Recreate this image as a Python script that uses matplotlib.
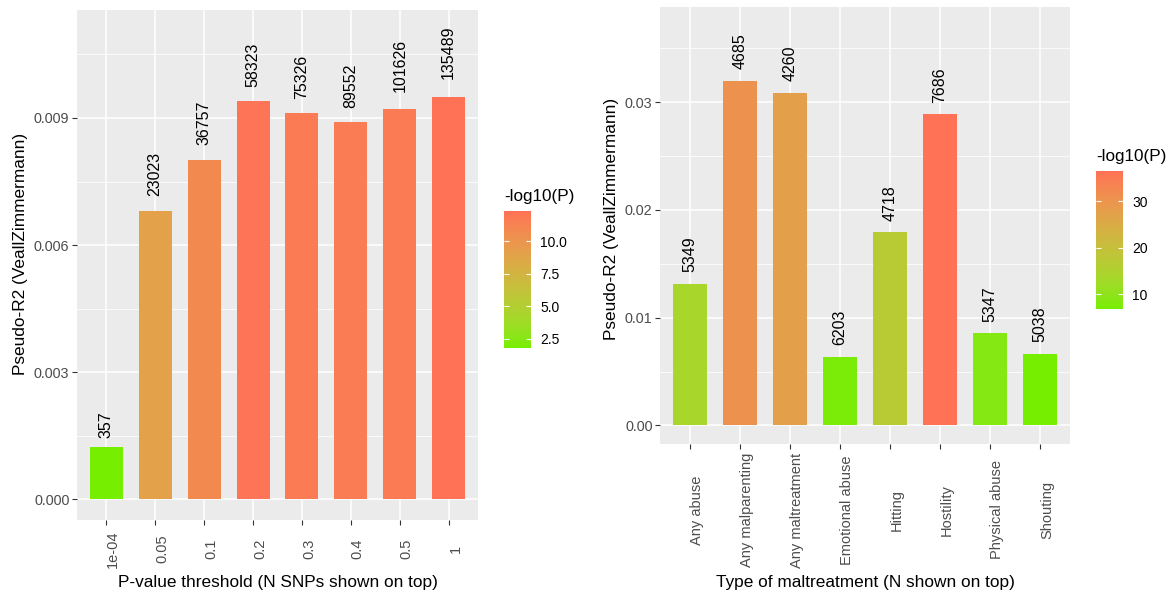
import numpy as np
import matplotlib
matplotlib.use('Agg')
import matplotlib.pyplot as plt
from matplotlib.colors import ListedColormap, Normalize, to_rgb
from matplotlib.cm import ScalarMappable
from matplotlib.ticker import MultipleLocator, FormatStrFormatter

plt.rcParams['font.family'] = ['Liberation Sans', 'DejaVu Sans']

# left panel: P-value thresholds
thresholds = ['1e-04', '0.05', '0.1', '0.2', '0.3', '0.4', '0.5', '1']
r2_thresh = [0.001234, 0.006805, 0.008016, 0.009401, 0.009111, 0.008898, 0.009212, 0.009503]
n_snps = [357, 23023, 36757, 58323, 75326, 89552, 101626, 135489]
logp_thresh = [1.78, 9.1, 10.8, 12.2, 11.8, 11.7, 11.8, 12.34]

# right panel: maltreatment types
types = ['Any abuse', 'Any malparenting', 'Any maltreatment', 'Emotional abuse',
         'Hitting', 'Hostility', 'Physical abuse', 'Shouting']
r2_type = [0.01312, 0.03195, 0.03084, 0.00635, 0.01792, 0.02886, 0.00855, 0.00666]
n_type = [5349, 4685, 4260, 6203, 4718, 7686, 5347, 5038]
logp_type = [13.9, 30.6, 27.6, 7.4, 17.1, 36.5, 8.6, 6.77]

# gradient chartreuse2 -> coral1, mixed in Lab like ggplot does
M = np.array([[0.4124, 0.3576, 0.1805],
              [0.2126, 0.7152, 0.0722],
              [0.0193, 0.1192, 0.9505]])
WHITE = np.array([0.95047, 1.0, 1.08883])


def to_lab(col):
    rgb = np.array(to_rgb(col))
    lin = np.where(rgb <= 0.04045, rgb / 12.92, ((rgb + 0.055) / 1.055) ** 2.4)
    xyz = M @ lin / WHITE
    f = np.where(xyz > (6 / 29) ** 3, np.cbrt(xyz), xyz / (3 * (6 / 29) ** 2) + 4 / 29)
    return np.array([116 * f[1] - 16, 500 * (f[0] - f[1]), 200 * (f[1] - f[2])])


def from_lab(lab):
    fy = (lab[0] + 16) / 116
    f = np.array([fy + lab[1] / 500, fy, fy - lab[2] / 200])
    xyz = np.where(f > 6 / 29, f ** 3, 3 * (6 / 29) ** 2 * (f - 4 / 29)) * WHITE
    lin = np.clip(np.linalg.inv(M) @ xyz, 0, 1)
    rgb = np.where(lin <= 0.0031308, 12.92 * lin, 1.055 * lin ** (1 / 2.4) - 0.055)
    return np.clip(rgb, 0, 1)


lo, hi = to_lab('#76EE00'), to_lab('#FF7256')
cmap = ListedColormap([from_lab(lo + t * (hi - lo)) for t in np.linspace(0, 1, 256)])

fig = plt.figure(figsize=(11.73, 5.94), dpi=100)
W, H = 1173, 594


def px_axes(l, t, r, b):
    return fig.add_axes([l / W, 1 - b / H, (r - l) / W, (b - t) / H])


def panel(ax, cats, vals, ns, logp, width, ylim, step, fmt, xlabel, xpad, xlab_y, ylab_y, ylab_x):
    x = np.arange(len(cats))
    norm = Normalize(min(logp), max(logp))
    ax.bar(x, vals, width=width, color=cmap(norm(logp)), zorder=3)
    for xi, v, n in zip(x, vals, ns):
        s = str(n)
        ax.annotate(s, (xi, v), xytext=(0, 2.8 * len(s) + 0.5), textcoords='offset pixels',
                    rotation=90, ha='center', va='bottom', fontsize=11.5, color='black', zorder=4)
    ax.set_facecolor('#EBEBEB')
    for sp in ax.spines.values():
        sp.set_visible(False)
    ax.set_xlim(-0.6, len(cats) - 0.4)
    ax.set_ylim(*ylim)
    ax.yaxis.set_major_locator(MultipleLocator(step))
    ax.yaxis.set_minor_locator(MultipleLocator(step / 2))
    ax.yaxis.set_major_formatter(FormatStrFormatter(fmt))
    ax.grid(which='major', color='white', linewidth=1.1, zorder=0)
    ax.grid(which='minor', axis='y', color='white', linewidth=0.55, zorder=0)
    ax.set_axisbelow(True)
    ax.set_xticks(x, cats)
    ax.tick_params(axis='both', which='major', length=3.6, width=0.8, color='#333333',
                   labelcolor='#4D4D4D', labelsize=10.4)
    ax.tick_params(axis='y', which='minor', length=0)
    ax.tick_params(axis='y', pad=1.8)
    ax.tick_params(axis='x', pad=xpad, labelsize=10.5)
    for lbl in ax.get_xticklabels():
        lbl.set_rotation(90)
        lbl.set_ha('left')
        lbl.set_va('center')
    ax.set_xlabel(xlabel, fontsize=12.4, va='center')
    ax.xaxis.set_label_coords(0.5, xlab_y)
    ax.set_ylabel('Pseudo-R2 (VeallZimmermann)', fontsize=12.4, va='center')
    ax.yaxis.set_label_coords(ylab_x, ylab_y)
    return norm


def legend(norm, l, t, r, b, ticks, fmt, title_x, title_b):
    cax = px_axes(l, t, r, b)
    cb = fig.colorbar(ScalarMappable(norm=norm, cmap=cmap), cax=cax)
    cb.outline.set_visible(False)
    cb.set_ticks(ticks)
    cb.set_ticklabels([fmt % v for v in ticks])
    cax.tick_params(direction='in', length=3.6, width=0.8, color='white', left=True, right=True,
                    labelleft=False, labelright=True, labelsize=10, labelcolor='black', pad=6.5)
    fig.text(title_x / W, 1 - title_b / H, '-log10(P)', fontsize=12.3, ha='left', va='bottom')


ax1 = px_axes(77, 10, 478, 520)
n1 = panel(ax1, thresholds, r2_thresh, n_snps, logp_thresh, 0.675, (-0.000489, 0.011549), 0.003,
           '%.3f', 'P-value threshold (N SNPs shown on top)', 17.3, -0.1216, 0.5216, -0.142)
legend(n1, 504, 211, 531, 348, [2.5, 5.0, 7.5, 10.0], '%.1f', 504, 204)

ax2 = px_axes(660, 7, 1070, 444)
n2 = panel(ax2, types, r2_type, n_type, logp_type, 0.665, (-0.001716, 0.03881), 0.01,
           '%.2f', 'Type of maltreatment (N shown on top)', 43.9, -0.316, 0.516, -0.1195)
legend(n2, 1096, 171, 1123, 309, [10, 20, 30], '%d', 1096, 164)

fig.savefig('out.png', dpi=100, facecolor='white')
